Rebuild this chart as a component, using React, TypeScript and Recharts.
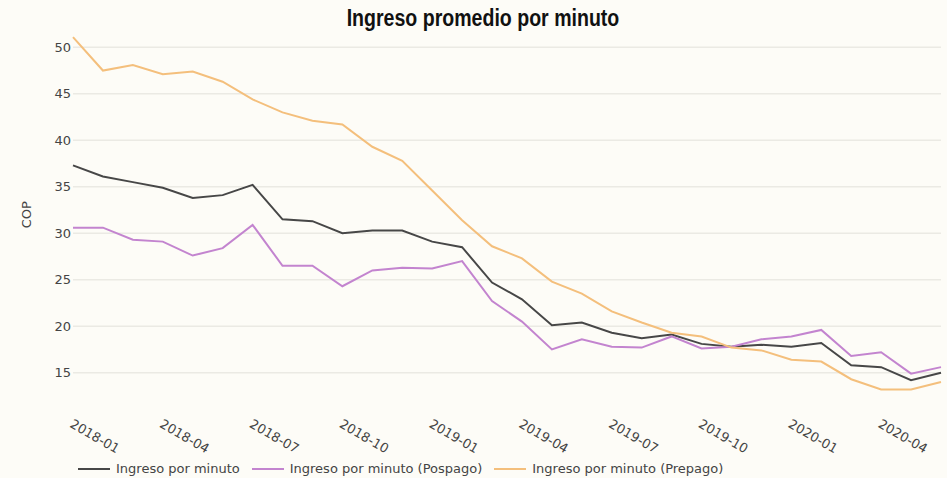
import { LineChart, Line, XAxis, YAxis, ReferenceLine } from "recharts";

const months = [
  "2018-01", "2018-02", "2018-03", "2018-04", "2018-05", "2018-06",
  "2018-07", "2018-08", "2018-09", "2018-10", "2018-11", "2018-12",
  "2019-01", "2019-02", "2019-03", "2019-04", "2019-05", "2019-06",
  "2019-07", "2019-08", "2019-09", "2019-10", "2019-11", "2019-12",
  "2020-01", "2020-02", "2020-03", "2020-04", "2020-05", "2020-06",
];

const ingreso = [
  37.3, 36.1, 35.5, 34.9, 33.8, 34.1, 35.2, 31.5, 31.3, 30.0,
  30.3, 30.3, 29.1, 28.5, 24.7, 22.9, 20.1, 20.4, 19.3, 18.7,
  19.1, 18.1, 17.8, 18.0, 17.8, 18.2, 15.8, 15.6, 14.2, 15.0,
];

const pospago = [
  30.6, 30.6, 29.3, 29.1, 27.6, 28.4, 30.9, 26.5, 26.5, 24.3,
  26.0, 26.3, 26.2, 27.0, 22.7, 20.5, 17.5, 18.6, 17.8, 17.7,
  18.9, 17.6, 17.8, 18.6, 18.9, 19.6, 16.8, 17.2, 14.9, 15.6,
];

const prepago = [
  51.1, 47.5, 48.1, 47.1, 47.4, 46.3, 44.4, 43.0, 42.1, 41.7,
  39.3, 37.8, 34.6, 31.4, 28.6, 27.3, 24.8, 23.5, 21.6, 20.4,
  19.3, 18.9, 17.7, 17.4, 16.4, 16.2, 14.3, 13.2, 13.2, 14.0,
];

const yTicks = [15, 20, 25, 30, 35, 40, 45, 50];

const series = [
  { key: "ingreso", name: "Ingreso por minuto", color: "#474747" },
  { key: "pospago", name: "Ingreso por minuto (Pospago)", color: "#c384cf" },
  { key: "prepago", name: "Ingreso por minuto (Prepago)", color: "#f4bf7c" },
];

const data = months.map((m, i) => ({
  month: m,
  ingreso: ingreso[i],
  pospago: pospago[i],
  prepago: prepago[i],
}));

const FONT = "'DejaVu Sans', Verdana, sans-serif";

function MonthTick({ x, y, payload }: any) {
  return (
    <text
      x={x - 4}
      y={y + 24}
      transform={`rotate(30, ${x - 4}, ${y + 24})`}
      textAnchor="start"
      fontFamily={FONT}
      fontSize={13}
      fill="#444"
    >
      {payload.value}
    </text>
  );
}

export default function App() {
  return (
    <div
      style={{
        position: "absolute",
        left: 0,
        top: 0,
        width: 947,
        height: 478,
        background: "#fdfcf7",
        overflow: "hidden",
      }}
    >
      <div
        style={{
          position: "absolute",
          left: 0,
          top: 5,
          width: 966,
          textAlign: "center",
          fontFamily: "'Liberation Sans', Arial, sans-serif",
          fontWeight: "bold",
          fontSize: 23,
          color: "#111",
          transform: "scaleX(0.85)",
          transformOrigin: "483px 0",
        }}
      >
        Ingreso promedio por minuto
      </div>
      <LineChart
        width={947}
        height={478}
        data={data}
        margin={{ top: 28.7, right: 6, bottom: 0, left: 0 }}
      >
        {yTicks.map((t) => (
          <ReferenceLine key={t} y={t} stroke="#ebeae4" strokeWidth={1.5} />
        ))}
        <XAxis
          dataKey="month"
          height={77.4}
          axisLine={false}
          tickLine={false}
          tickSize={0}
          interval={2}
          tick={<MonthTick />}
        />
        <YAxis
          width={73}
          domain={[12, 52]}
          ticks={yTicks}
          axisLine={false}
          tickLine={false}
          tickSize={0}
          tickMargin={2}
          tick={{ fontFamily: FONT, fontSize: 13, fill: "#444" }}
          label={{
            value: "COP",
            angle: -90,
            position: "insideLeft",
            offset: 26,
            style: { fontFamily: FONT, fontSize: 13, fill: "#444", textAnchor: "middle" },
          }}
        />
        {series.map((s) => (
          <Line
            key={s.key}
            type="linear"
            dataKey={s.key}
            name={s.name}
            stroke={s.color}
            strokeWidth={2}
            dot={false}
            activeDot={false}
            isAnimationActive={false}
          />
        ))}
      </LineChart>
      <div
        style={{
          position: "absolute",
          left: 78,
          top: 461,
          display: "flex",
          alignItems: "center",
          fontFamily: FONT,
          fontSize: 13,
          color: "#444",
          whiteSpace: "nowrap",
        }}
      >
        {series.map((s) => (
          <div key={s.key} style={{ display: "flex", alignItems: "center", marginRight: 12 }}>
            <svg width={32} height={4} style={{ marginRight: 6 }}>
              <line x1={0} y1={2} x2={32} y2={2} stroke={s.color} strokeWidth={2} />
            </svg>
            <span>{s.name}</span>
          </div>
        ))}
      </div>
    </div>
  );
}
